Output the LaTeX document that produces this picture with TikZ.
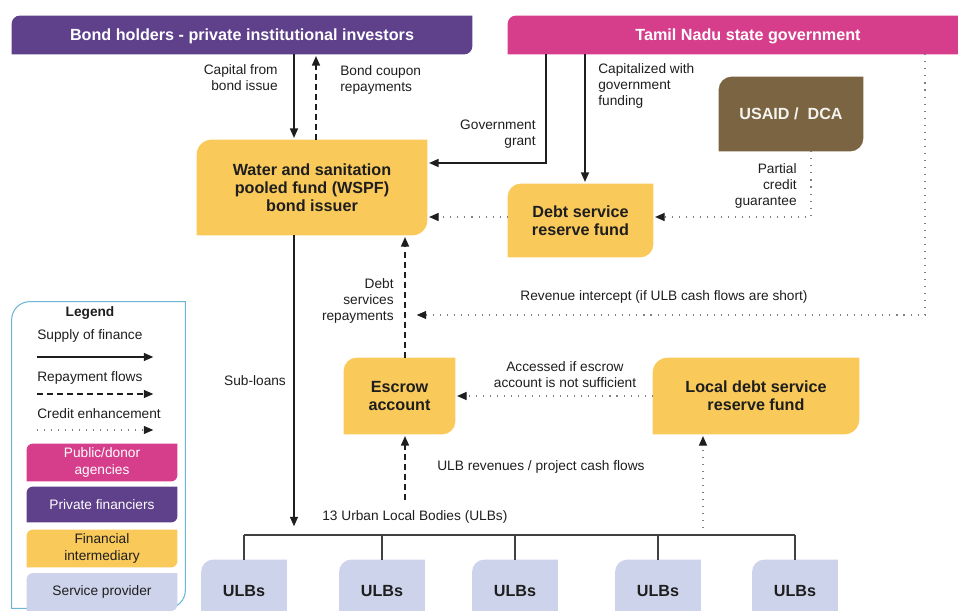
\documentclass[tikz,border=0pt]{standalone}
\usepackage{fontspec}
\setmainfont{Liberation Sans}
\usetikzlibrary{arrows.meta, backgrounds}
\definecolor{private}{HTML}{5F408A}
\definecolor{public}{HTML}{D63E8C}
\definecolor{interm}{HTML}{F9C95A}
\definecolor{donor}{HTML}{7A6442}
\definecolor{service}{HTML}{CDD3EA}
\definecolor{legline}{HTML}{6DB4D7}
\definecolor{ink}{HTML}{1E1E1E}
\def\lblfont{\fontsize{7.8}{9.2}\selectfont}
\def\boxfont{\fontsize{9.2}{10.1}\selectfont\bfseries}
% box with rounded top left and bottom right corners
\newcommand{\leaf}[3]{%
  \path[#2] (#1.south west) -- ([yshift=-#3]#1.north west)
    arc[start angle=180, end angle=90, radius=#3] -- (#1.north east)
    -- ([yshift=#3]#1.south east)
    arc[start angle=0, end angle=-90, radius=#3] -- cycle;}
\tikzset{
  box/.style={text=ink, font=\boxfont, align=center, inner sep=0pt},
  bar/.style={text=white, font=\boxfont, inner sep=0pt, minimum height=0.76cm, text height=6.6pt, text depth=0pt},
  lbl/.style={text=ink, font=\lblfont, inner sep=0pt},
  tip/.style={-{Triangle[width=4.6pt,length=5.4pt,color=ink]}, shorten >=1pt},
  supply/.style={draw=ink, line width=0.7pt, tip},
  repay/.style={supply, dash pattern=on 3.4pt off 2.3pt},
  credit/.style={draw=gray, line width=0.6pt, dash pattern=on 0.6pt off 3.4pt, tip},
}

\begin{document}
\begin{tikzpicture}[x=0.02cm, y=-0.02cm]
	\clip (0,0) rectangle (958,611);

	\node[bar, minimum width=9.2cm] (bonds) at (242,35) {Bond holders - private institutional investors};
	\node[bar, minimum width=9.6cm] (tn) at (748,35) {Tamil Nadu state government};
	\node[box, minimum width=4.6cm, minimum height=1.9cm] (wspf) at (312,187.5) {Water and sanitation\\pooled fund (WSPF)\\bond issuer};
	\node[box, minimum width=2.9cm, minimum height=1.46cm] (dsrf) at (580.5,220.5) {Debt service\\reserve fund};
	\node[box, text=white!92!donor, minimum width=2.88cm, minimum height=1.48cm] (usaid) at (791,114) {USAID /\ \ DCA};
	\node[box, minimum width=2.22cm, minimum height=1.52cm] (escrow) at (399.5,396) {Escrow\\account};
	\node[box, minimum width=4.12cm, minimum height=1.52cm] (ldsrf) at (756,396) {Local debt service\\reserve fund};
	\foreach \x [count=\i] in {244,382,515,658,795}
		\node[box, minimum width=1.7cm, minimum height=1.24cm] (u\i) at (\x,591) {ULBs};

	\coordinate (bondin) at (294,0);
	\coordinate (bondout) at (316,0);
	\coordinate (grant) at (546,163);
	\coordinate (capit) at (585,0);
	\coordinate (guar) at (811,217);
	\coordinate (intercept) at (925,315);
	\coordinate (revend) at (415,315);
	\coordinate (repaycol) at (405,0);
	\coordinate (subend) at (294,528);
	\coordinate (revstart) at (405,500);
	\coordinate (localstart) at (703,528);
	\coordinate (bus) at (0,535);

	\draw[supply] (bonds.south -| bondin) -- (wspf.north -| bondin);
	\draw[repay] (wspf.north -| bondout) -- (bonds.south -| bondout);
	\draw[supply] (tn.south -| grant) |- (wspf.east |- grant);
	\draw[supply] (tn.south -| capit) -- (dsrf.north -| capit);
	\draw[credit] (usaid.south -| guar) |- (dsrf.east |- guar);
	\draw[credit] (dsrf.west |- guar) -- (wspf.east |- guar);
	\draw[credit] (tn.south -| intercept) |- (revend);
	\draw[repay] (escrow.north -| repaycol) -- (wspf.south -| repaycol);
	\draw[supply] (wspf.south -| bondin) -- (subend);
	\draw[credit] (ldsrf.west) -- (escrow.east);
	\draw[repay] (revstart) -- (escrow.south -| repaycol);
	\draw[credit] (localstart) -- (ldsrf.south -| localstart);
	\draw[ink!85, line width=0.6pt] (u1.north |- bus) -- (u5.north |- bus);
	\foreach \i in {1,...,5}
		\draw[ink!85, line width=0.6pt] (u\i.north |- bus) -- (u\i.north);

	\node[lbl, anchor=east, align=right] (caplbl) at (278,78) {Capital from\\bond issue};
	\node[lbl, anchor=west, align=left] (couplbl) at (340,80) {Bond coupon\\repayments};
	\node[lbl, anchor=east, align=right] (grantlbl) at (536,134) {Government\\grant};
	\node[lbl, anchor=west, align=left] (capitlbl) at (598,86) {Capitalized with\\government\\funding};
	\node[lbl, anchor=east, align=right] (guarlbl) at (797,186) {Partial\\credit\\guarantee};
	\node[lbl] (icptlbl) at (664,297) {Revenue intercept (if ULB cash flows are short)};
	\node[lbl, anchor=east, align=right] (repaylbl) at (394,301) {Debt\\services\\repayments};
	\node[lbl] (sublbl) at (255,381) {Sub-loans};
	\node[lbl, align=center] (acclbl) at (565,375) {Accessed if escrow\\account is not sufficient};
	\node[lbl, anchor=west] (revlbl) at (437,467) {ULB revenues / project cash flows};
	\node[lbl, anchor=west] (ulblbl) at (322,517) {13 Urban Local Bodies (ULBs)};

	\node[minimum width=3.46cm, minimum height=6.12cm] (legend) at (98.5,455) {};
	\node[lbl, font=\lblfont\bfseries] (legtitle) at (90,313) {Legend};
	\node[lbl, anchor=west] (legsup) at (37,336) {Supply of finance};
	\node[lbl, anchor=west] (legrep) at (37,378) {Repayment flows};
	\node[lbl, anchor=west] (legcre) at (37,414) {Credit enhancement};
	\draw[supply] (37,357) -- (155,357);
	\draw[repay] (37,394) -- (155,394);
	\draw[credit] (37,430) -- (155,430);
	\node[lbl, text=white, align=center, minimum width=3cm, minimum height=0.74cm] (legpub) at (102,462.5) {Public/donor\\agencies};
	\node[lbl, text=white, minimum width=3cm, minimum height=0.7cm] (legpriv) at (102,504.5) {Private financiers};
	\node[lbl, align=center, minimum width=3cm, minimum height=0.74cm] (legint) at (102,548.5) {Financial\\intermediary};
	\node[lbl, minimum width=3cm, minimum height=0.74cm] (legserv) at (102,592) {Service provider};

	\begin{scope}[on background layer]
		\leaf{bonds}{fill=private}{0.16cm}
		\leaf{tn}{fill=public}{0.16cm}
		\leaf{wspf}{fill=interm}{0.3cm}
		\leaf{dsrf}{fill=interm}{0.26cm}
		\leaf{usaid}{fill=donor}{0.26cm}
		\leaf{escrow}{fill=interm}{0.26cm}
		\leaf{ldsrf}{fill=interm}{0.3cm}
		\foreach \i in {1,...,5}{
			\leaf{u\i}{fill=service}{0.24cm}
		}
		\leaf{legend}{draw=legline, line width=0.6pt}{0.36cm}
		\leaf{legpub}{fill=public}{0.12cm}
		\leaf{legpriv}{fill=private}{0.12cm}
		\leaf{legint}{fill=interm}{0.12cm}
		\leaf{legserv}{fill=service}{0.12cm}
	\end{scope}
\end{tikzpicture}
\end{document}
